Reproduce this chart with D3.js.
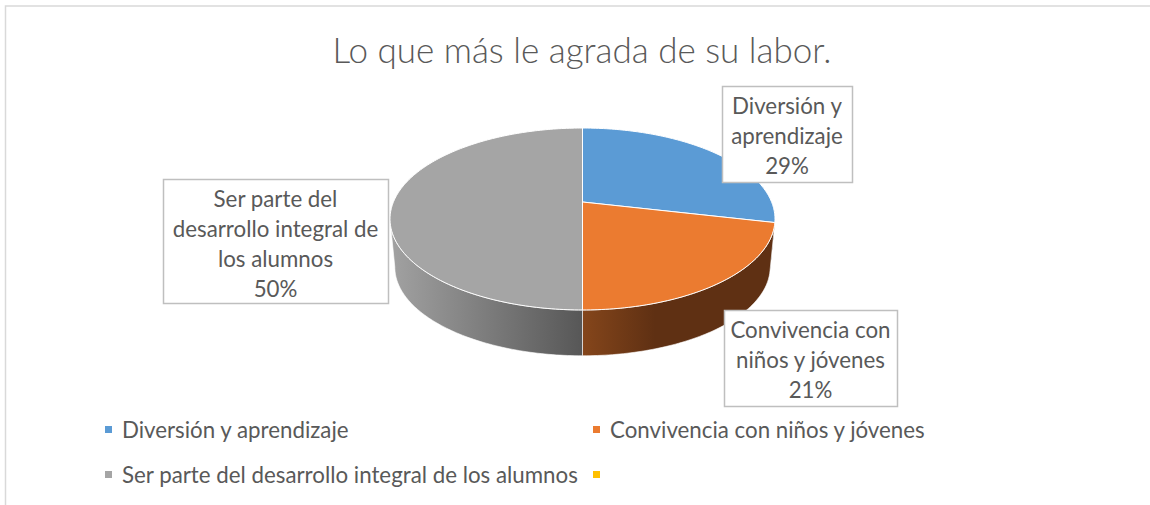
<!DOCTYPE html>
<html>
<head>
<meta charset="utf-8">
<script src="https://cdn.jsdelivr.net/npm/d3@7"></script>
<style>
  html, body { margin: 0; padding: 0; background: #fff; }
  text { font-family: Lato, "Open Sans", sans-serif; fill: #595959; }
</style>
</head>
<body>
<div id="chart"></div>
<script>
const title = 'Lo que más le agrada de su labor.'
const categories = ['Diversión y aprendizaje', 'Convivencia con niños y jóvenes', 'Ser parte del desarrollo integral de los alumnos', '']
const values = [28.6, 21.4, 50, 0]
const labelLines = [['Diversión y', 'aprendizaje'], ['Convivencia con', 'niños y jóvenes'], ['Ser parte del', 'desarrollo integral de', 'los alumnos']]
const colors = ['#5b9bd5', '#eb7b30', '#a5a5a5', '#ffc000']

const width = 1150, height = 505

const svg = d3.select('#chart').append('svg')
  .attr('width', width)
  .attr('height', height)
  .style('display', 'block')

// chart frame, only the top and left edges are inside the crop
svg.append('path')
  .attr('d', 'M5.5,505V6H1150')
  .attr('fill', 'none')
  .attr('stroke', '#d9d9d9')
  .attr('stroke-width', 1.5)

svg.append('text')
  .attr('x', 582)
  .attr('y', 63)
  .attr('text-anchor', 'middle')
  .style('font-size', '35px')
  .style('font-weight', 300)
  .text(title)

// pie with perspective: v goes down the disc, near side is bigger
const tilt = -0.1868
const project = (angle, scale, drop) => {
  const u = Math.sin(angle), v = -Math.cos(angle)
  const p = 1 + tilt * v
  return [582.5 + scale * 189.1 * u / p, 202 + drop + scale * 87.8 * v / p]
}

const pie = d3.pie().sort(null).value(d => d)
const slices = pie(values).filter(d => d.value > 0)

const line = d3.line()
const rim = (a0, a1, scale, drop) => {
  const n = Math.max(2, Math.ceil((a1 - a0) * 60))
  return d3.range(n + 1).map(i => project(a0 + (a1 - a0) * i / n, scale, drop))
}

const defs = svg.append('defs')
const sideGradient = (id, x1, x2, from, to) => {
  const g = defs.append('linearGradient').attr('id', id)
    .attr('gradientUnits', 'userSpaceOnUse')
    .attr('x1', x1).attr('x2', x2).attr('y1', 0).attr('y2', 0)
  g.append('stop').attr('offset', 0).attr('stop-color', from)
  g.append('stop').attr('offset', 1).attr('stop-color', to)
}
sideGradient('side0', 582, 775, '#2f5d85', '#2f5d85')
sideGradient('side1', 582, 655, '#85461b', '#5f3013')
sideGradient('side2', 395, 582, '#a0a0a0', '#575757')

// only the front part of the rim has a visible side
const frontStart = Math.acos(tilt), frontEnd = 2 * Math.PI - frontStart
const bottomScale = 0.975, bottomDrop = 48.5

svg.append('g').selectAll('path')
  .data(slices.filter(d => d.endAngle > frontStart && d.startAngle < frontEnd))
  .join('path')
  .attr('d', d => {
    const a0 = Math.max(d.startAngle, frontStart), a1 = Math.min(d.endAngle, frontEnd)
    return line(rim(a0, a1, 1, 0).concat(rim(a0, a1, bottomScale, bottomDrop).reverse())) + 'Z'
  })
  .attr('fill', d => 'url(#side' + d.index + ')')
  .attr('stroke', d => d.index === 0 ? 'none' : '#fff')
  .attr('stroke-width', 0.6)

svg.append('g').selectAll('path')
  .data(slices)
  .join('path')
  .attr('d', d => line([[582.5, 202]].concat(rim(d.startAngle, d.endAngle, 1, 0))) + 'Z')
  .attr('fill', d => colors[d.index])
  .attr('stroke', '#fff')
  .attr('stroke-width', 1)
  .attr('stroke-linejoin', 'round')

// data label boxes
const labelBoxes = [
  { x: 722, y: 86, w: 130, h: 96 },
  { x: 724, y: 310, w: 173, h: 96 },
  { x: 163, y: 179, w: 225, h: 124 }
]

const labels = svg.append('g').selectAll('g')
  .data(labelBoxes)
  .join('g')
  .attr('transform', d => 'translate(' + d.x + ',' + d.y + ')')

labels.append('rect')
  .attr('x', 0.5).attr('y', 0.5)
  .attr('width', d => d.w)
  .attr('height', d => d.h)
  .attr('fill', '#fff')
  .attr('stroke', '#bfbfbf')
  .attr('stroke-width', 1.5)

labels.each(function (d, i) {
  const rows = labelLines[i].concat(Math.round(values[i]) + '%')
  d3.select(this).selectAll('text')
    .data(rows)
    .join('text')
    .attr('x', d.w / 2)
    .attr('y', (r, j) => 28 + j * 30)
    .attr('text-anchor', 'middle')
    .style('font-size', '22.3px')
    .text(r => r)
})

// legend
const legendSpots = [[105, 430], [593, 430], [105, 475], [593, 475]]

const legend = svg.append('g').selectAll('g')
  .data(categories)
  .join('g')
  .attr('transform', (d, i) => 'translate(' + legendSpots[i][0] + ',' + legendSpots[i][1] + ')')

legend.append('rect')
  .attr('x', 0).attr('y', -4)
  .attr('width', 7).attr('height', 7)
  .attr('fill', (d, i) => colors[i])

legend.append('text')
  .attr('x', 17)
  .attr('y', 8)
  .style('font-size', '22.3px')
  .text(d => d)
</script>
</body>
</html>
